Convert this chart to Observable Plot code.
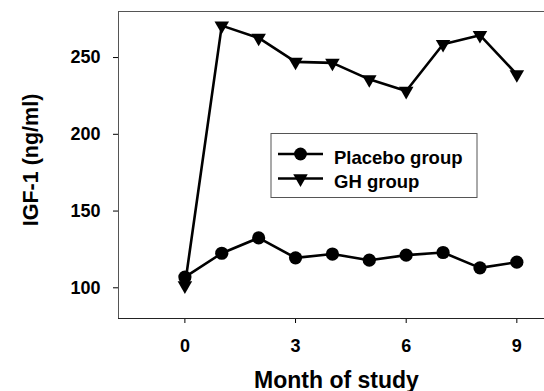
<!DOCTYPE html>
<html>
<head>
<meta charset="utf-8">
<script src="https://cdn.jsdelivr.net/npm/d3@7"></script>
<script src="https://cdn.jsdelivr.net/npm/@observablehq/plot@0.6"></script>
<style>
  html, body { margin: 0; padding: 0; background: #fff; }
  #chart { width: 544px; height: 391px; position: relative; }
</style>
</head>
<body>
<div id="chart"></div>
<script>
const months = [0, 1, 2, 3, 4, 5, 6, 7, 8, 9];
const placebo = [107, 122.5, 132.5, 119.5, 122, 118, 121.3, 123, 113, 116.7];
const gh = [101.5, 270.8, 262.8, 247.2, 246.5, 235.8, 228.2, 258.7, 264.6, 239];
const xTicks = [0, 3, 6, 9];
const yTicks = [100, 150, 200, 250];
const seriesNames = ["Placebo group", "GH group"];

const placeboData = months.map((m, i) => ({month: m, value: placebo[i]}));
const ghData = months.map((m, i) => ({month: m, value: gh[i]}));

const font = "'Liberation Sans', Arial, sans-serif";

const plot = Plot.plot({
  width: 544,
  height: 391,
  marginLeft: 118,
  marginTop: 11,
  marginBottom: 73,
  marginRight: 0,
  style: {fontFamily: font, fontWeight: "bold", background: "#fff", color: "#000"},
  x: {domain: [-1.8, 9.75]},
  y: {domain: [80, 280]},
  marks: [
    Plot.axisX({ticks: xTicks, tickSize: 5, tickPadding: 16, label: null, tickFormat: d => d}),
    Plot.axisY({ticks: yTicks, tickSize: 5, tickPadding: 13, label: null, tickFormat: d => d}),
    Plot.frame({anchor: "top", stroke: "#555"}),
    Plot.frame({anchor: "left", stroke: "#555"}),
    Plot.frame({anchor: "bottom", stroke: "#222"}),
    Plot.line(ghData, {x: "month", y: "value", stroke: "#000", strokeWidth: 2.6}),
    Plot.line(placeboData, {x: "month", y: "value", stroke: "#000", strokeWidth: 2.6}),
    Plot.dot(ghData, {x: "month", y: "value", symbol: "triangle", rotate: 180, r: 5.4, fill: "#000", stroke: "none"}),
    Plot.dot(placeboData, {x: "month", y: "value", symbol: "circle", r: 6.6, fill: "#000", stroke: "none"})
  ]
});
document.getElementById("chart").appendChild(plot);

const svg = d3.select(plot);
svg.selectAll("g[aria-label$='tick label']")
  .attr("font-size", 18).style("font-size", "18px");
svg.selectAll("g[aria-label$='tick label'] text")
  .style("font-size", "18px").style("font-weight", "bold").style("font-family", font).attr("fill", "#000");

// Axis titles
svg.append("text")
  .attr("transform", "translate(38,160) rotate(-90)")
  .attr("text-anchor", "middle")
  .style("font-size", "21.5px").style("font-weight", "bold").style("font-family", font).attr("fill", "#000")
  .text("IGF-1 (ng/ml)");
svg.append("text")
  .attr("x", 336.5).attr("y", 387.5)
  .attr("text-anchor", "middle")
  .style("font-size", "23px").style("font-weight", "bold").style("font-family", font).attr("fill", "#000")
  .text("Month of study");

// Legend
const lg = svg.append("g");
lg.append("rect").attr("x", 271).attr("y", 133.5).attr("width", 206).attr("height", 64)
  .attr("fill", "#fff").attr("stroke", "#555").attr("stroke-width", 1);
const rows = [{y: 154, sym: "circle"}, {y: 178.5, sym: "triangle"}];
rows.forEach((r, i) => {
  lg.append("line").attr("x1", 278).attr("x2", 323).attr("y1", r.y).attr("y2", r.y)
    .attr("stroke", "#000").attr("stroke-width", 2.6);
  if (r.sym === "circle") {
    lg.append("circle").attr("cx", 300.5).attr("cy", r.y).attr("r", 6.4).attr("fill", "#000");
  } else {
    lg.append("path").attr("d", d3.symbol(d3.symbolTriangle, Math.PI * 5.4 * 5.4)())
      .attr("transform", `translate(300.5,${r.y}) rotate(180)`).attr("fill", "#000");
  }
  lg.append("text").attr("x", 334).attr("y", r.y + 9.5)
    .attr("text-anchor", "start")
    .style("font-size", "18.5px").style("font-weight", "bold").style("font-family", font).attr("fill", "#000")
    .text(seriesNames[i]);
});
</script>
</body>
</html>
